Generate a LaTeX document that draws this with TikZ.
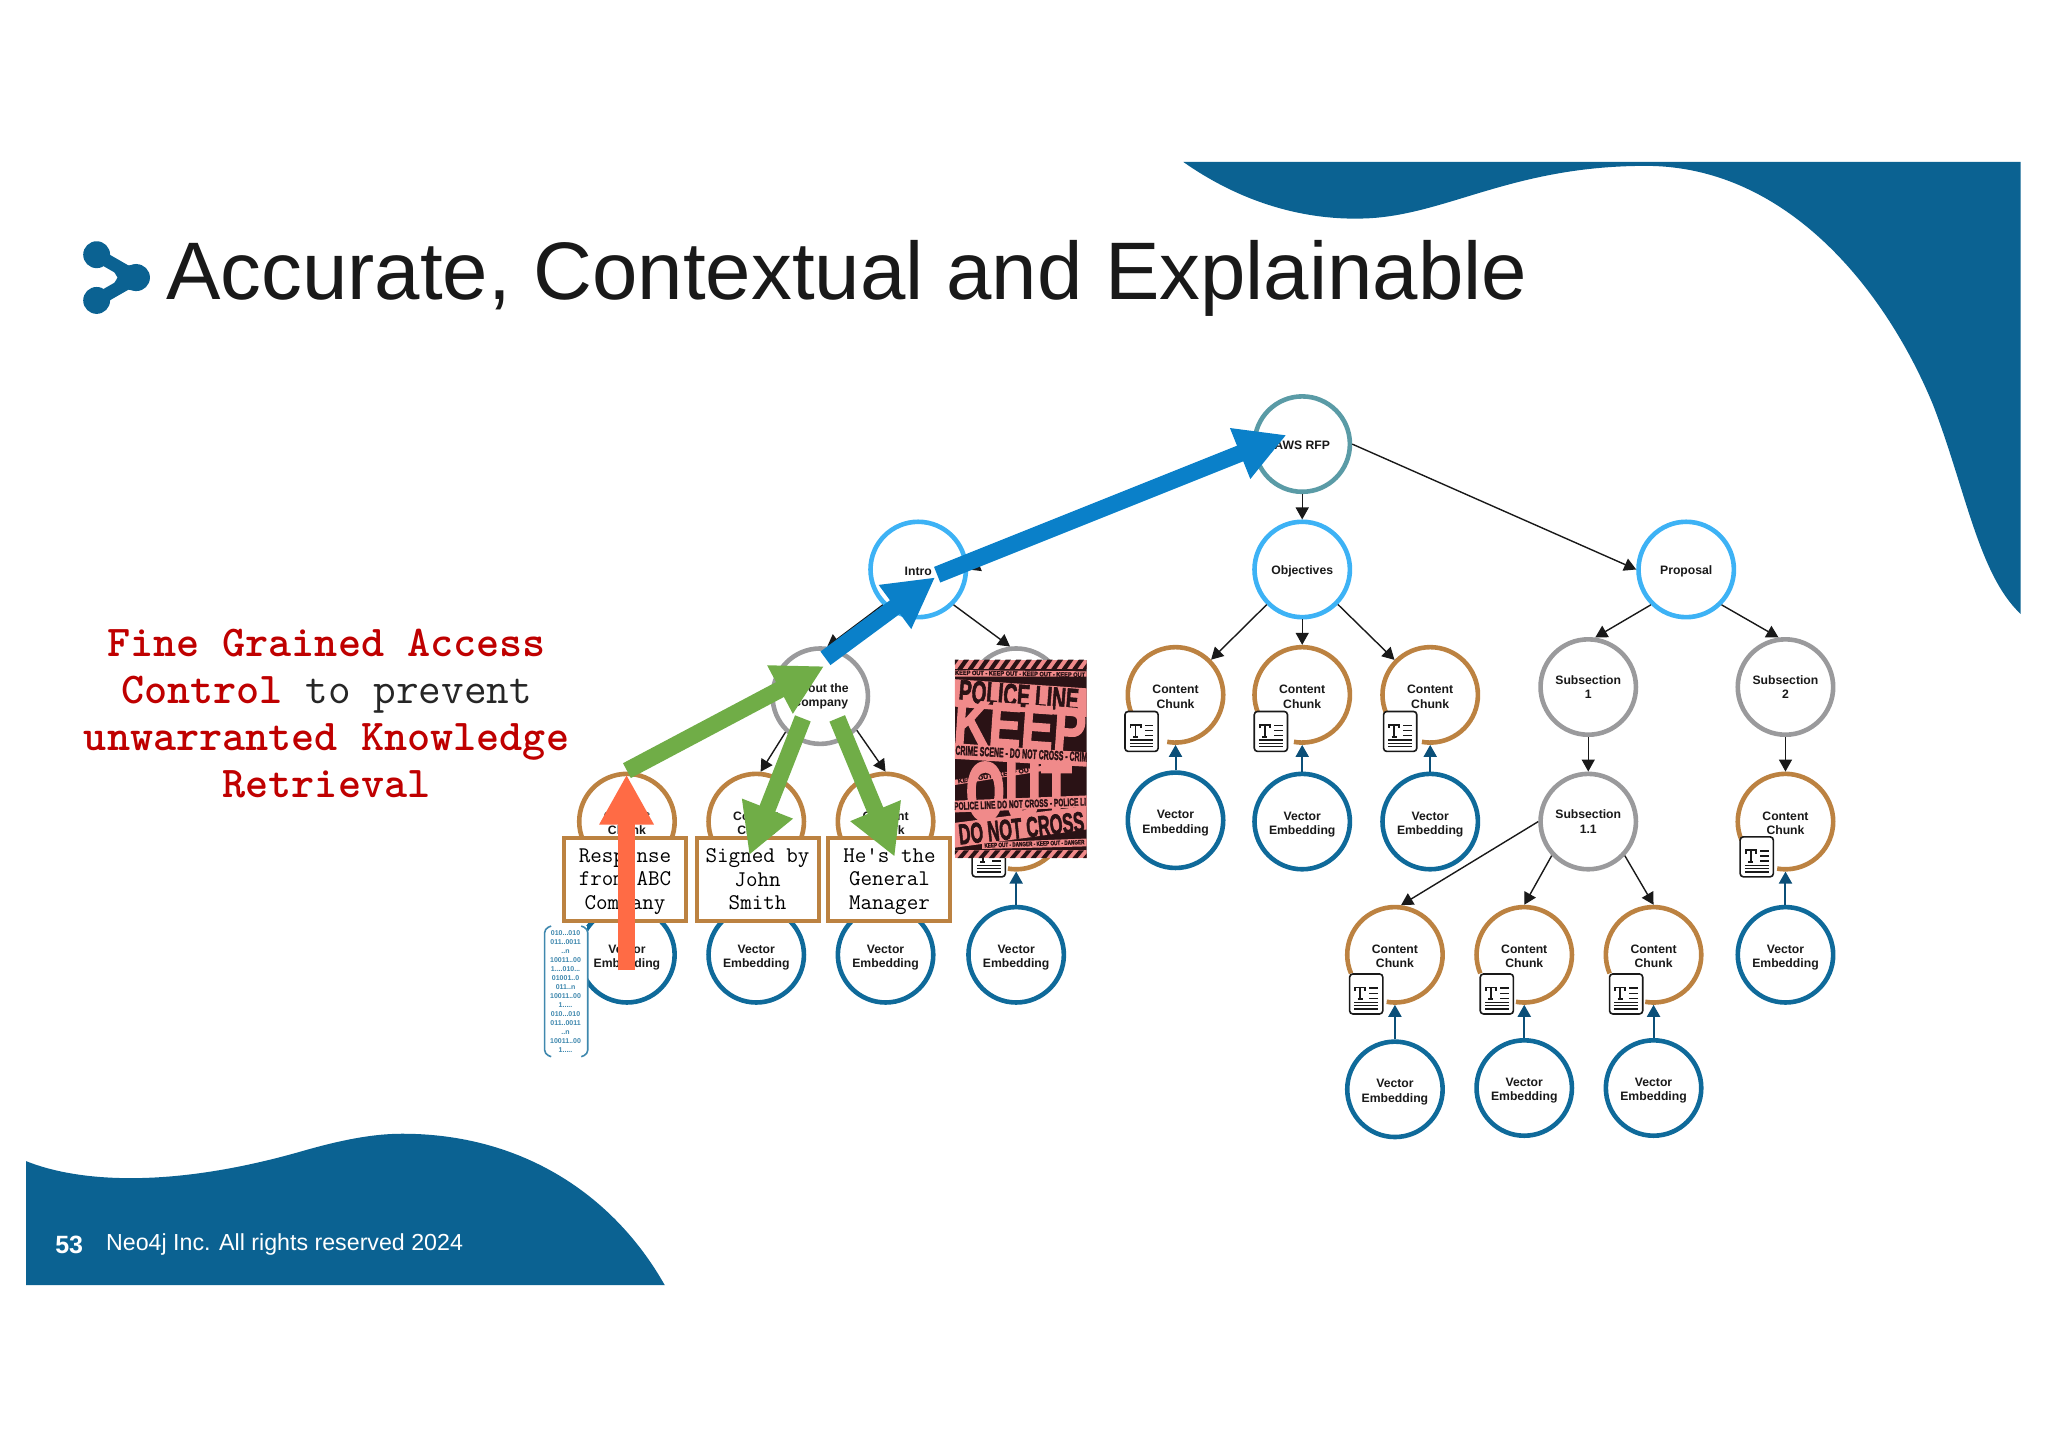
\documentclass[tikz,border=0pt]{standalone}
\usepackage{fontspec}
\usetikzlibrary{arrows.meta}
\newfontfamily\slidefont{Liberation Sans}
\newfontfamily\tapefont[BoldFeatures={FakeBold=2.5}]{Liberation Sans}
\definecolor{neoblue}{HTML}{0B6292}
\definecolor{chunkbrown}{HTML}{BC8241}
\definecolor{seccyan}{HTML}{3DB2F5}
\definecolor{subgray}{HTML}{9A9A9C}
\definecolor{rootteal}{HTML}{5A9BA6}
\definecolor{vecblue}{HTML}{0F6A9A}
\definecolor{vecarrow}{HTML}{0B4F78}
\definecolor{bigblue}{HTML}{0A80C9}
\definecolor{biggreen}{HTML}{70AD47}
\definecolor{bigorange}{HTML}{FF6B45}
\definecolor{tapepink}{HTML}{F08A8A}
\definecolor{tapedark}{HTML}{2A1215}
\tikzstyle{hier}=[circle, draw, line width=2.3pt, minimum size=47.7pt, inner sep=0pt, fill=white, align=center, text=black!90, font=\slidefont\bfseries\fontsize{6.1}{7.2}\selectfont]
\tikzstyle{rootnode}=[hier, draw=rootteal, execute at begin node={\rule{0pt}{5.5pt}}]
\tikzstyle{secnode}=[hier, draw=seccyan, execute at begin node={\rule{0pt}{6.5pt}}]
\tikzstyle{subnode}=[hier, draw=subgray]
\tikzstyle{vecnode}=[hier, draw=vecblue]
\tikzstyle{chunknode}=[hier, draw=none, outer sep=1.15pt]
\tikzstyle{link}=[-{Triangle[length=6pt,width=6.5pt]}, line width=.7pt, black!90]
\tikzstyle{veclink}=[-{Triangle[length=6pt,width=6.5pt]}, line width=1pt, vecarrow]
\tikzstyle{fact}=[rectangle, draw=chunkbrown, line width=2pt, fill=white, minimum width=61pt, minimum height=41.5pt, inner sep=0pt, align=center, font=\ttfamily\fontsize{11.2}{11.7}\selectfont]
\tikzstyle{bigarrow}=[-{Triangle[length=25pt,width=25.5pt]}, line width=8.4pt]
\tikzstyle{tapeword}=[inner sep=0pt, font=\tapefont\bfseries]
\newcommand{\rootnode}{\node[rootnode]}
\newcommand{\secnode}{\node[secnode]}
\newcommand{\subnode}{\node[subnode]}
\newcommand{\vecnode}{\node[vecnode]}
\newcommand{\factnode}{\node[fact]}
\newcommand{\vectext}{\rule{0pt}{7pt}Vector\\Embedding}
\newcommand{\chunk}[3][\rule{0pt}{6pt}Content\\Chunk]{\node[chunknode] (#2) at (#3){#1};
\draw[chunkbrown, line width=2.3pt] (#2.center) ++(203:23.85pt) arc[start angle=203, end angle=-100, radius=23.85pt];}
\newcommand{\texticon}[2]{\begin{scope}[shift={(#1,#2)}]
\draw[black!90, line width=.8pt, fill=white, rounded corners=1.6pt] (-12.7,-15.3) rectangle (12.7,15.3);
\draw[black!90, line width=.9pt] (-8.5,-2.5)--(-8.5,-5)--(-.7,-5)--(-.7,-2.5) (-4.6,-5)--(-4.6,4) (-6.5,4)--(-2.7,4);
\draw[black!90, line width=.7pt] (2.5,-4.5)--(9,-4.5) (2.5,-.5)--(9,-.5) (2.5,3.3)--(9,3.3) (-9,6.5)--(9,6.5) (-9,9)--(9,9) (-9,11.5)--(9,11.5);
\end{scope}}
\begin{document}
\begin{tikzpicture}[x=0.653pt, y=-0.653pt]
\useasboundingbox (0,0) rectangle (1568,1108.7);
% slide
\fill[neoblue] (906,124) .. controls (950,155) and (1000,170) .. (1050,167) .. controls (1110,163) and (1160,127) .. (1260,127) .. controls (1370,127) and (1445,225) .. (1480,310) .. controls (1505,375) and (1515,440) .. (1547,470) -- (1547,124) -- cycle;
\fill[neoblue] (20,889) .. controls (60,905) and (130,910) .. (229,882) .. controls (260,873) and (285,868) .. (308,868) .. controls (400,868) and (470,915) .. (509,984) -- (20,984) -- cycle;
\fill[neoblue] (74,195) circle (10.3) (104.5,212.5) circle (10.3) (74,230) circle (10.3);
\draw[neoblue, line width=6.5pt] (74,195)--(104.5,212.5)--(74,230);
\fill[neoblue] (82,199) .. controls (88,206) and (95,204) .. (104.5,202) -- (104.5,223) .. controls (95,221) and (88,219) .. (82,226) -- (90,212.5) -- cycle;
\node[anchor=base west, inner sep=0pt, text=black!90, font=\slidefont\fontsize{40.8}{44}\selectfont] (title) at (127,229){Accurate, Contextual and Explainable};
\node[anchor=west, inner sep=0pt, text=white, font=\slidefont\bfseries\fontsize{12.5}{13}\selectfont] (pageno) at (42,953){53};
\node[anchor=west, inner sep=0pt, text=white, font=\slidefont\fontsize{11.6}{13}\selectfont] (footer) at (81,953){Neo4j Inc. All rights reserved 2024};
\node[align=center, inner sep=0pt, font=\ttfamily\fontsize{22}{23.5}\selectfont, text=red!75!black] (note) at (250,546){\textbf{Fine Grained Access}\\\textbf{Control} \textcolor{black!85}{to prevent}\\\textbf{unwarranted Knowledge}\\\textbf{Retrieval}};
% hierarchy
\rootnode (aws) at (997,340){AWS RFP};
\secnode (intro) at (703,436){Intro};
\secnode (obj) at (997,436){Objectives};
\secnode (prop) at (1291,436){Proposal};
\subnode (about) at (628,533){About the\\Company};
\subnode (hidden) at (778,533){};
\subnode (sub1) at (1216,526){Subsection\\1};
\subnode (sub2) at (1367,526){Subsection\\2};
\subnode (sub11) at (1216,629){Subsection\\1.1};
\chunk{c1}{480,629}
\chunk{c2}{579,629}
\chunk{c3}{678,629}
\chunk[]{c4}{778,629}
\chunk{c5}{900,532}
\chunk{c6}{997,532}
\chunk{c7}{1095,532}
\chunk{c8}{1367,629}
\chunk{c9}{1068,731}
\chunk{c10}{1167,731}
\chunk{c11}{1266,731}
\vecnode (v1) at (480,731){\vectext};
\vecnode (v2) at (579,731){\vectext};
\vecnode (v3) at (678,731){\vectext};
\vecnode (v4) at (778,731){\vectext};
\vecnode (v5) at (900,628){\vectext};
\vecnode (v6) at (997,629){\vectext};
\vecnode (v7) at (1095,629){\vectext};
\vecnode (v8) at (1367,731){\vectext};
\vecnode (v9) at (1068,834){\vectext};
\vecnode (v10) at (1167,833){\vectext};
\vecnode (v11) at (1266,833){\vectext};
\draw[link] (aws)--(obj);
\draw[link] (aws.east)--(prop.west);
\draw[link] (aws.190)--(intro.east);
\draw[link] (intro.225)--(about.82);
\draw[link] (intro.315)--(hidden.97);
\draw[link] (about.226)--(c2.85);
\draw[link] (about.317)--(c3.north);
\draw[link] (obj)--(c5);
\draw[link] (obj)--(c6);
\draw[link] (obj)--(c7);
\draw[link] (prop.225)--(sub1.82);
\draw[link] (prop.315)--(sub2.98);
\draw[link] (sub1)--(sub11);
\draw[link] (sub2)--(c8);
\draw[link] (sub11.180)--(c9.83);
\draw[link] (sub11.223)--(c10.north);
\draw[link] (sub11.317)--(c11.north);
\draw[veclink] (v1)--(c1);
\draw[veclink] (v2)--(c2);
\draw[veclink] (v3)--(c3);
\draw[veclink] (v4)--(c4);
\draw[veclink] (v5)--(c5);
\draw[veclink] (v6)--(c6);
\draw[veclink] (v7)--(c7);
\draw[veclink] (v8)--(c8);
\draw[veclink] (v9)--(c9);
\draw[veclink] (v10)--(c10);
\draw[veclink] (v11)--(c11);
\texticon{757}{656}
\texticon{874}{560}
\texticon{973}{560}
\texticon{1072}{560}
\texticon{1345}{656}
\texticon{1046}{761}
\texticon{1146}{761}
\texticon{1245}{761}
% police tape
\begin{scope}
\clip (731,505) rectangle (832,657);
\fill[tapedark] (731,505) rectangle (832,657);
\fill[tapepink] (731,505) rectangle (832,512);
\fill[tapepink] (731,651) rectangle (832,657);
\foreach \s in {725,733,...,835} {
\fill[tapedark] (\s,512)--(\s+4,512)--(\s+9,505)--(\s+5,505)--cycle;
\fill[tapedark] (\s,657)--(\s+4,657)--(\s+9,651)--(\s+5,651)--cycle;
}
\fill[tapepink] (731,513)--(832,514)--(832,518)--(731,518)--cycle;
\node[tapeword, rotate=-1, text=tapedark] (tape1) at (781,515.8){\resizebox{65pt}{2.2pt}{KEEP OUT - KEEP OUT - KEEP OUT - KEEP OUT}};
\fill[tapepink] (731,520)--(832,527)--(832,549)--(731,541)--cycle;
\node[tapeword, rotate=-4.5, text=tapedark] (police) at (780,532.5){\resizebox{60pt}{11pt}{POLICE LINE}};
\node[tapeword, rotate=-4, text=tapepink] (keep) at (781,556){\resizebox{66pt}{21.5pt}{KEEP}};
\fill[tapepink] (731,569)--(832,576)--(832,587)--(731,581)--cycle;
\node[tapeword, rotate=-3, text=tapedark] (crime) at (782,577){\resizebox{66pt}{4.6pt}{CRIME SCENE - DO NOT CROSS - CRIM}};
\fill[tapepink] (731,597)--(800,586)--(800,590)--(731,601)--cycle;
\node[tapeword, rotate=9, text=tapedark] (tape2) at (762,593.5){\resizebox{38pt}{2.2pt}{KEEP OUT - KEEP OUT}};
\node[tapeword, text=tapepink] (out) at (780,606){\resizebox{53pt}{29pt}{OUT}};
\fill[tapepink] (731,613)--(832,609)--(832,618)--(731,622)--cycle;
\node[tapeword, rotate=2, text=tapedark] (line) at (781,615.5){\resizebox{66pt}{3.8pt}{POLICE LINE DO NOT CROSS - POLICE LI}};
\fill[tapepink] (731,630)--(832,617)--(832,635)--(731,649)--cycle;
\node[tapeword, rotate=6, text=tapedark] (cross) at (782,634){\resizebox{63pt}{10pt}{DO NOT CROSS}};
\fill[tapepink] (752,645)--(832,642)--(832,648)--(752,650)--cycle;
\node[tapeword, rotate=2, text=tapedark] (tape3) at (792,646){\resizebox{50pt}{2.2pt}{KEEP OUT - DANGER - KEEP OUT - DANGER}};
\end{scope}
% facts
\factnode (f1) at (478.5,673){\rule{0pt}{9.5pt}Response\\from ABC\\Company};
\factnode (f2) at (580,673){\rule{0pt}{9.5pt}Signed by\\John\\Smith\rule[-2.2pt]{0pt}{2.2pt}};
\factnode (f3) at (681,673){\rule{0pt}{9.5pt}He's the\\General\\Manager};
\node[fill=white, inner sep=0pt, minimum width=21pt, minimum height=65pt, align=center, text=vecblue!80, font=\slidefont\bfseries\fontsize{3.5}{4.5}\selectfont] (bits) at (433,759){010...010\\011..0011\\..n\\10011..00\\1....010...\\01001..0\\011..n\\10011..00\\1.....\\010...010\\011..0011\\..n\\10011..00\\1.....};
\draw[vecblue!80, line width=.8pt, rounded corners=2pt] (422,709)--(417,711)--(417,807)--(422,809) (445,709)--(450,711)--(450,807)--(445,809);
% retrieval path
\coordinate (gtail) at (480,590);
\coordinate (gtip) at (631,510);
\coordinate (stail) at (614.7,550);
\coordinate (stip) at (573.6,654.7);
\coordinate (mtail) at (641,550);
\coordinate (mtip) at (685,656);
\coordinate (otail) at (479.7,743);
\coordinate (otip) at (479.7,593);
\coordinate (btail) at (632,504);
\coordinate (btip) at (716,442);
\coordinate (atail) at (717.5,440);
\coordinate (atip) at (985,333);
\draw[bigarrow, biggreen] (gtail)--(gtip);
\draw[bigarrow, biggreen] (stail)--(stip);
\draw[bigarrow, biggreen] (mtail)--(mtip);
\draw[bigarrow, bigorange] (otail)--(otip);
\draw[bigarrow, bigblue] (btail)--(btip);
\draw[bigarrow, bigblue] (atail)--(atip);
\end{tikzpicture}
\end{document}
